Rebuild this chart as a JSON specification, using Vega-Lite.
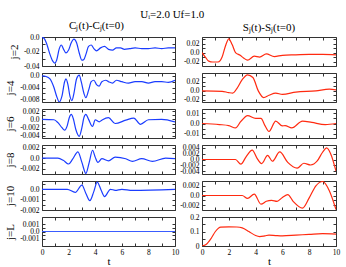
{
  "$schema": "https://vega.github.io/schema/vega-lite/v6.json",
  "padding": {"left": 4, "top": 8, "right": 6, "bottom": 0},
  "background": "white",
  "title": {"text": "Uᵢ=2.0   Uf=1.0", "font": "Liberation Serif", "fontSize": 11, "fontWeight": "normal", "anchor": "middle", "offset": 0},
  "config": {
    "font": "Liberation Serif",
    "view": {"stroke": "#333", "strokeWidth": 1},
    "axis": {"grid": false, "domain": false, "tickSize": -3, "tickColor": "#333", "labelFont": "Liberation Serif", "labelFontSize": 7.5, "labelColor": "#000", "labelPadding": 6, "titleFont": "Liberation Serif", "titleFontWeight": "normal", "titleFontSize": 11, "titleColor": "#000", "labelOverlap": false, "labelFlush": false}
  },
  "datasets": {
    "c2": [{"t":0,"v":0},{"t":0.2,"v":-0.003},{"t":0.4,"v":-0.012},{"t":0.6,"v":-0.024},{"t":0.8,"v":-0.033},{"t":0.95,"v":-0.036},{"t":1.1,"v":-0.032},{"t":1.3,"v":-0.016},{"t":1.45,"v":-0.011},{"t":1.6,"v":-0.016},{"t":1.8,"v":-0.022},{"t":2.0,"v":-0.018},{"t":2.2,"v":-0.008},{"t":2.4,"v":-0.003},{"t":2.6,"v":-0.008},{"t":2.8,"v":-0.022},{"t":3.0,"v":-0.032},{"t":3.15,"v":-0.031},{"t":3.3,"v":-0.024},{"t":3.5,"v":-0.013},{"t":3.7,"v":-0.011},{"t":3.9,"v":-0.016},{"t":4.1,"v":-0.019},{"t":4.4,"v":-0.015},{"t":4.7,"v":-0.013},{"t":5.0,"v":-0.017},{"t":5.3,"v":-0.018},{"t":5.6,"v":-0.015},{"t":5.9,"v":-0.015},{"t":6.2,"v":-0.017},{"t":6.6,"v":-0.016},{"t":7,"v":-0.015},{"t":7.5,"v":-0.016},{"t":8,"v":-0.016},{"t":8.5,"v":-0.015},{"t":9,"v":-0.016},{"t":9.5,"v":-0.015},{"t":10,"v":-0.015}],
    "c4": [{"t":0,"v":0},{"t":0.3,"v":-0.0002},{"t":0.6,"v":-0.001},{"t":0.9,"v":-0.004},{"t":1.1,"v":-0.007},{"t":1.3,"v":-0.009},{"t":1.5,"v":-0.007},{"t":1.7,"v":-0.002},{"t":1.8,"v":-0.001},{"t":1.95,"v":-0.003},{"t":2.1,"v":-0.007},{"t":2.25,"v":-0.0085},{"t":2.4,"v":-0.006},{"t":2.6,"v":-0.001},{"t":2.8,"v":0.0003},{"t":2.95,"v":-0.002},{"t":3.15,"v":-0.006},{"t":3.3,"v":-0.0075},{"t":3.5,"v":-0.005},{"t":3.7,"v":-0.002},{"t":3.9,"v":-0.0015},{"t":4.1,"v":-0.003},{"t":4.3,"v":-0.0035},{"t":4.5,"v":-0.002},{"t":4.8,"v":-0.0015},{"t":5.0,"v":-0.002},{"t":5.3,"v":-0.0025},{"t":5.6,"v":-0.0015},{"t":6,"v":-0.002},{"t":6.5,"v":-0.0025},{"t":7,"v":-0.002},{"t":7.5,"v":-0.002},{"t":8,"v":-0.0025},{"t":8.5,"v":-0.002},{"t":9,"v":-0.002},{"t":9.5,"v":-0.0022},{"t":10,"v":-0.0015}],
    "c6": [{"t":0,"v":0},{"t":0.9,"v":-0.0001},{"t":1.2,"v":-0.0008},{"t":1.5,"v":-0.002},{"t":1.7,"v":-0.0026},{"t":1.9,"v":-0.0015},{"t":2.05,"v":0.0004},{"t":2.2,"v":0.0012},{"t":2.35,"v":0.0002},{"t":2.55,"v":-0.0025},{"t":2.8,"v":-0.0041},{"t":3.0,"v":-0.002},{"t":3.15,"v":0.0004},{"t":3.3,"v":0.0012},{"t":3.5,"v":0.0},{"t":3.8,"v":-0.0017},{"t":4.0,"v":-0.0001},{"t":4.3,"v":-0.0006},{"t":4.5,"v":-0.0002},{"t":5.0,"v":0.0004},{"t":5.5,"v":-0.001},{"t":6.3,"v":-0.0002},{"t":6.9,"v":0.0003},{"t":7.4,"v":-0.0012},{"t":8,"v":-0.0001},{"t":9,"v":0.0},{"t":10,"v":-0.0006}],
    "c8": [{"t":0,"v":0},{"t":1.2,"v":0},{"t":1.6,"v":-0.0004},{"t":2.0,"v":-0.0011},{"t":2.3,"v":-0.0002},{"t":2.7,"v":0.0012},{"t":3.0,"v":-0.0008},{"t":3.3,"v":-0.0029},{"t":3.55,"v":-0.0008},{"t":3.8,"v":0.0015},{"t":4.0,"v":0.0002},{"t":4.2,"v":-0.0008},{"t":4.5,"v":-0.0001},{"t":5,"v":-0.0005},{"t":5.5,"v":0.0002},{"t":6.3,"v":-0.0001},{"t":6.8,"v":-0.0006},{"t":7.5,"v":-0.0001},{"t":8.3,"v":-0.0006},{"t":9.3,"v":0},{"t":10,"v":-0.0001}],
    "c10": [{"t":0,"v":0},{"t":1.9,"v":0},{"t":2.5,"v":-0.0003},{"t":3.0,"v":0.0004},{"t":3.3,"v":-0.0004},{"t":3.6,"v":-0.0011},{"t":3.9,"v":-0.0002},{"t":4.15,"v":0.0007},{"t":4.45,"v":-0.0001},{"t":4.7,"v":-0.0007},{"t":5.15,"v":0},{"t":5.5,"v":-0.0001},{"t":6,"v":0},{"t":6.8,"v":-0.0001},{"t":10,"v":0}],
    "cL": [{"t":0,"v":0},{"t":10,"v":0}],
    "s2": [{"t":0,"v":0},{"t":0.25,"v":-0.01},{"t":0.5,"v":-0.019},{"t":0.8,"v":-0.021},{"t":1.2,"v":-0.021},{"t":1.5,"v":-0.01},{"t":1.75,"v":0.015},{"t":2.0,"v":0.031},{"t":2.25,"v":0.018},{"t":2.5,"v":0.0},{"t":2.85,"v":-0.006},{"t":3.1,"v":-0.012},{"t":3.4,"v":-0.017},{"t":3.9,"v":-0.008},{"t":4.3,"v":-0.01},{"t":4.8,"v":-0.003},{"t":5.4,"v":-0.009},{"t":6,"v":-0.006},{"t":7,"v":-0.005},{"t":8,"v":-0.004},{"t":9,"v":-0.004},{"t":10,"v":-0.005}],
    "s4": [{"t":0,"v":0},{"t":1.5,"v":-0.001},{"t":2.0,"v":-0.004},{"t":2.3,"v":-0.005},{"t":2.6,"v":0.005},{"t":3.0,"v":0.025},{"t":3.4,"v":0.036},{"t":3.8,"v":0.03},{"t":4.2,"v":0.0},{"t":4.6,"v":-0.015},{"t":5.0,"v":-0.01},{"t":5.5,"v":-0.005},{"t":6,"v":-0.008},{"t":7,"v":-0.003},{"t":8.5,"v":0},{"t":9.5,"v":0.004},{"t":10,"v":0.002}],
    "s6": [{"t":0,"v":0},{"t":1.3,"v":-0.001},{"t":2.0,"v":-0.002},{"t":2.5,"v":-0.0043},{"t":2.9,"v":0.002},{"t":3.4,"v":0.0077},{"t":4.0,"v":0.005},{"t":4.4,"v":0.005},{"t":4.7,"v":-0.002},{"t":5.0,"v":-0.0077},{"t":5.5,"v":0.0023},{"t":6.0,"v":-0.0023},{"t":6.2,"v":-0.002},{"t":6.7,"v":-0.0043},{"t":7.5,"v":0.0023},{"t":8.2,"v":0.001},{"t":9.2,"v":-0.001},{"t":10,"v":0}],
    "s8": [{"t":0,"v":0},{"t":2.5,"v":0},{"t":2.9,"v":-0.0016},{"t":3.3,"v":0.001},{"t":3.75,"v":0.0032},{"t":4.1,"v":0.0005},{"t":4.45,"v":-0.0014},{"t":4.9,"v":0.0014},{"t":5.25,"v":-0.0006},{"t":5.8,"v":0.0026},{"t":6.4,"v":-0.001},{"t":7.1,"v":-0.003},{"t":7.6,"v":-0.0013},{"t":8.1,"v":-0.0019},{"t":8.6,"v":-0.0005},{"t":9.0,"v":0.0025},{"t":9.3,"v":0.004},{"t":9.6,"v":0.002},{"t":10,"v":-0.004}],
    "s10": [{"t":0,"v":0},{"t":3.0,"v":0},{"t":3.4,"v":-0.0006},{"t":3.9,"v":0.0003},{"t":4.4,"v":-0.0018},{"t":4.8,"v":-0.0012},{"t":5.2,"v":-0.001},{"t":5.6,"v":-0.0012},{"t":6.0,"v":-0.0004},{"t":6.4,"v":0.0002},{"t":6.8,"v":-0.0012},{"t":7.5,"v":-0.0026},{"t":8.0,"v":-0.0005},{"t":8.5,"v":0.002},{"t":9.0,"v":0.0029},{"t":9.5,"v":0.001},{"t":10,"v":-0.0029}],
    "sL": [{"t":0,"v":0},{"t":0.3,"v":0.01},{"t":0.7,"v":0.055},{"t":1.0,"v":0.1},{"t":1.4,"v":0.13},{"t":2,"v":0.132},{"t":2.6,"v":0.131},{"t":3.0,"v":0.125},{"t":3.5,"v":0.1},{"t":4.0,"v":0.072},{"t":4.3,"v":0.065},{"t":4.7,"v":0.07},{"t":5.0,"v":0.075},{"t":5.5,"v":0.072},{"t":6,"v":0.07},{"t":7,"v":0.075},{"t":8,"v":0.08},{"t":9,"v":0.085},{"t":10,"v":0.082}]
  },
  "concat": [
    {"title": {"text": "Cⱼ(t)-Cⱼ(t=0)", "fontSize": 11, "fontWeight": "normal", "offset": 2, "dx": -12},
     "width": 133, "height": 29, "data": {"name": "c2"},
     "layer": [
      {"mark": {"type": "line", "color": "#1a3cff", "strokeWidth": 1.2, "clip": true, "interpolate": "monotone"},
       "encoding": {"x": {"field": "t", "type": "quantitative", "scale": {"domain": [0, 10]}, "axis": {"values": [0,1,2,3,4,5,6,7,8,9,10], "labels": false, "title": null}},
        "y": {"field": "v", "type": "quantitative", "scale": {"domain": [-0.04, 0]}, "axis": {"values": [-0.04,-0.03,-0.02,-0.01,0], "title": "j=2", "labelExpr": "datum.value == 0 ? '0.0' : (datum.value == -0.02 ? '-0.02' : (datum.value == -0.04 ? '-0.04' : ''))"}}}},
      {"mark": {"type": "line", "opacity": 0},
       "encoding": {"x": {"field": "t", "type": "quantitative", "axis": {"orient": "top", "values": [0,1,2,3,4,5,6,7,8,9,10], "labels": false, "title": null}},
        "y": {"field": "v", "type": "quantitative", "axis": {"orient": "right", "values": [-0.04,-0.03,-0.02,-0.01,0], "labels": false, "title": null}}}}
     ],
     "resolve": {"axis": {"x": "independent", "y": "independent"}}},
    {"title": {"text": "Sⱼ(t)-Sⱼ(t=0)", "fontSize": 11, "fontWeight": "normal", "offset": 2},
     "width": 134, "height": 29, "data": {"name": "s2"},
     "layer": [
      {"mark": {"type": "line", "color": "#ff2a10", "strokeWidth": 1.2, "clip": true, "interpolate": "monotone"},
       "encoding": {"x": {"field": "t", "type": "quantitative", "scale": {"domain": [0, 10]}, "axis": {"values": [0,1,2,3,4,5,6,7,8,9,10], "labels": false, "title": null}},
        "y": {"field": "v", "type": "quantitative", "scale": {"domain": [-0.028, 0.032]}, "axis": {"values": [-0.02,-0.01,0,0.01,0.02,0.03], "title": null, "labelExpr": "datum.value == 0 ? '0.0' : (datum.value == 0.02 ? '0.02' : (datum.value == -0.02 ? '-0.02' : ''))"}}}},
      {"mark": {"type": "line", "opacity": 0},
       "encoding": {"x": {"field": "t", "type": "quantitative", "axis": {"orient": "top", "values": [0,1,2,3,4,5,6,7,8,9,10], "labels": false, "title": null}},
        "y": {"field": "v", "type": "quantitative", "axis": {"orient": "right", "values": [-0.02,-0.01,0,0.01,0.02,0.03], "labels": false, "title": null}}}}
     ],
     "resolve": {"axis": {"x": "independent", "y": "independent"}}},

    {"width": 133, "height": 29, "data": {"name": "c4"},
     "layer": [
      {"mark": {"type": "line", "color": "#1a3cff", "strokeWidth": 1.2, "clip": true, "interpolate": "monotone"},
       "encoding": {"x": {"field": "t", "type": "quantitative", "scale": {"domain": [0, 10]}, "axis": {"values": [0,1,2,3,4,5,6,7,8,9,10], "labels": false, "title": null}},
        "y": {"field": "v", "type": "quantitative", "scale": {"domain": [-0.009, 0.001]}, "axis": {"values": [-0.008,-0.006,-0.004,-0.002,0], "title": "j=4", "labelExpr": "datum.value == 0 ? '0.0' : (datum.value == -0.004 ? '-0.004' : (datum.value == -0.008 ? '-0.008' : ''))"}}}},
      {"mark": {"type": "line", "opacity": 0},
       "encoding": {"x": {"field": "t", "type": "quantitative", "axis": {"orient": "top", "values": [0,1,2,3,4,5,6,7,8,9,10], "labels": false, "title": null}},
        "y": {"field": "v", "type": "quantitative", "axis": {"orient": "right", "values": [-0.008,-0.006,-0.004,-0.002,0], "labels": false, "title": null}}}}
     ],
     "resolve": {"axis": {"x": "independent", "y": "independent"}}},
    {"width": 134, "height": 29, "data": {"name": "s4"},
     "layer": [
      {"mark": {"type": "line", "color": "#ff2a10", "strokeWidth": 1.2, "clip": true, "interpolate": "monotone"},
       "encoding": {"x": {"field": "t", "type": "quantitative", "scale": {"domain": [0, 10]}, "axis": {"values": [0,1,2,3,4,5,6,7,8,9,10], "labels": false, "title": null}},
        "y": {"field": "v", "type": "quantitative", "scale": {"domain": [-0.022, 0.036]}, "axis": {"values": [-0.02,-0.01,0,0.01,0.02,0.03], "title": null, "labelExpr": "datum.value == 0 ? '0.0' : (datum.value == 0.02 ? '0.02' : (datum.value == -0.02 ? '-0.02' : ''))"}}}},
      {"mark": {"type": "line", "opacity": 0},
       "encoding": {"x": {"field": "t", "type": "quantitative", "axis": {"orient": "top", "values": [0,1,2,3,4,5,6,7,8,9,10], "labels": false, "title": null}},
        "y": {"field": "v", "type": "quantitative", "axis": {"orient": "right", "values": [-0.02,-0.01,0,0.01,0.02,0.03], "labels": false, "title": null}}}}
     ],
     "resolve": {"axis": {"x": "independent", "y": "independent"}}},

    {"width": 133, "height": 29, "data": {"name": "c6"},
     "layer": [
      {"mark": {"type": "line", "color": "#1a3cff", "strokeWidth": 1.2, "clip": true, "interpolate": "monotone"},
       "encoding": {"x": {"field": "t", "type": "quantitative", "scale": {"domain": [0, 10]}, "axis": {"values": [0,1,2,3,4,5,6,7,8,9,10], "labels": false, "title": null}},
        "y": {"field": "v", "type": "quantitative", "scale": {"domain": [-0.0045, 0.0025]}, "axis": {"values": [-0.004,-0.003,-0.002,-0.001,0,0.001,0.002], "title": "j=6", "labelExpr": "datum.value == 0 ? '0.0' : (datum.value == 0.002 ? '0.002' : (datum.value == -0.002 ? '-0.002' : (datum.value == -0.004 ? '-0.004' : '')))"}}}},
      {"mark": {"type": "line", "opacity": 0},
       "encoding": {"x": {"field": "t", "type": "quantitative", "axis": {"orient": "top", "values": [0,1,2,3,4,5,6,7,8,9,10], "labels": false, "title": null}},
        "y": {"field": "v", "type": "quantitative", "axis": {"orient": "right", "values": [-0.004,-0.003,-0.002,-0.001,0,0.001,0.002], "labels": false, "title": null}}}}
     ],
     "resolve": {"axis": {"x": "independent", "y": "independent"}}},
    {"width": 134, "height": 29, "data": {"name": "s6"},
     "layer": [
      {"mark": {"type": "line", "color": "#ff2a10", "strokeWidth": 1.2, "clip": true, "interpolate": "monotone"},
       "encoding": {"x": {"field": "t", "type": "quantitative", "scale": {"domain": [0, 10]}, "axis": {"values": [0,1,2,3,4,5,6,7,8,9,10], "labels": false, "title": null}},
        "y": {"field": "v", "type": "quantitative", "scale": {"domain": [-0.014, 0.014]}, "axis": {"values": [-0.01,-0.005,0,0.005,0.01], "title": null, "labelExpr": "datum.value == 0 ? '0.0' : (datum.value == 0.01 ? '0.01' : (datum.value == -0.01 ? '-0.01' : ''))"}}}},
      {"mark": {"type": "line", "opacity": 0},
       "encoding": {"x": {"field": "t", "type": "quantitative", "axis": {"orient": "top", "values": [0,1,2,3,4,5,6,7,8,9,10], "labels": false, "title": null}},
        "y": {"field": "v", "type": "quantitative", "axis": {"orient": "right", "values": [-0.01,-0.005,0,0.005,0.01], "labels": false, "title": null}}}}
     ],
     "resolve": {"axis": {"x": "independent", "y": "independent"}}},

    {"width": 133, "height": 29, "data": {"name": "c8"},
     "layer": [
      {"mark": {"type": "line", "color": "#1a3cff", "strokeWidth": 1.2, "clip": true, "interpolate": "monotone"},
       "encoding": {"x": {"field": "t", "type": "quantitative", "scale": {"domain": [0, 10]}, "axis": {"values": [0,1,2,3,4,5,6,7,8,9,10], "labels": false, "title": null}},
        "y": {"field": "v", "type": "quantitative", "scale": {"domain": [-0.003, 0.0025]}, "axis": {"values": [-0.003,-0.002,-0.001,0,0.001,0.002], "title": "j=8", "labelExpr": "datum.value == 0 ? '0.0' : (datum.value == 0.002 ? '0.002' : (datum.value == -0.002 ? '-0.002' : ''))"}}}},
      {"mark": {"type": "line", "opacity": 0},
       "encoding": {"x": {"field": "t", "type": "quantitative", "axis": {"orient": "top", "values": [0,1,2,3,4,5,6,7,8,9,10], "labels": false, "title": null}},
        "y": {"field": "v", "type": "quantitative", "axis": {"orient": "right", "values": [-0.003,-0.002,-0.001,0,0.001,0.002], "labels": false, "title": null}}}}
     ],
     "resolve": {"axis": {"x": "independent", "y": "independent"}}},
    {"width": 134, "height": 29, "data": {"name": "s8"},
     "layer": [
      {"mark": {"type": "line", "color": "#ff2a10", "strokeWidth": 1.2, "clip": true, "interpolate": "monotone"},
       "encoding": {"x": {"field": "t", "type": "quantitative", "scale": {"domain": [0, 10]}, "axis": {"values": [0,1,2,3,4,5,6,7,8,9,10], "labels": false, "title": null}},
        "y": {"field": "v", "type": "quantitative", "scale": {"domain": [-0.0042, 0.0042]}, "axis": {"values": [-0.004,-0.002,0,0.002,0.004], "title": null, "labelExpr": "datum.value == 0 ? '0.0' : (datum.value < 0 ? '-' : '') + format(abs(datum.value), '.3f')"}}}},
      {"mark": {"type": "line", "opacity": 0},
       "encoding": {"x": {"field": "t", "type": "quantitative", "axis": {"orient": "top", "values": [0,1,2,3,4,5,6,7,8,9,10], "labels": false, "title": null}},
        "y": {"field": "v", "type": "quantitative", "axis": {"orient": "right", "values": [-0.004,-0.002,0,0.002,0.004], "labels": false, "title": null}}}}
     ],
     "resolve": {"axis": {"x": "independent", "y": "independent"}}},

    {"width": 133, "height": 29, "data": {"name": "c10"},
     "layer": [
      {"mark": {"type": "line", "color": "#1a3cff", "strokeWidth": 1.2, "clip": true, "interpolate": "monotone"},
       "encoding": {"x": {"field": "t", "type": "quantitative", "scale": {"domain": [0, 10]}, "axis": {"values": [0,1,2,3,4,5,6,7,8,9,10], "labels": false, "title": null}},
        "y": {"field": "v", "type": "quantitative", "scale": {"domain": [-0.002, 0.0007]}, "axis": {"values": [-0.002,-0.0015,-0.001,-0.0005,0,0.0005], "title": "j=10", "labelExpr": "datum.value == 0 ? '0.0' : (datum.value == -0.001 ? '-0.001' : (datum.value == -0.002 ? '-0.002' : ''))"}}}},
      {"mark": {"type": "line", "opacity": 0},
       "encoding": {"x": {"field": "t", "type": "quantitative", "axis": {"orient": "top", "values": [0,1,2,3,4,5,6,7,8,9,10], "labels": false, "title": null}},
        "y": {"field": "v", "type": "quantitative", "axis": {"orient": "right", "values": [-0.002,-0.0015,-0.001,-0.0005,0,0.0005], "labels": false, "title": null}}}}
     ],
     "resolve": {"axis": {"x": "independent", "y": "independent"}}},
    {"width": 134, "height": 29, "data": {"name": "s10"},
     "layer": [
      {"mark": {"type": "line", "color": "#ff2a10", "strokeWidth": 1.2, "clip": true, "interpolate": "monotone"},
       "encoding": {"x": {"field": "t", "type": "quantitative", "scale": {"domain": [0, 10]}, "axis": {"values": [0,1,2,3,4,5,6,7,8,9,10], "labels": false, "title": null}},
        "y": {"field": "v", "type": "quantitative", "scale": {"domain": [-0.003, 0.003]}, "axis": {"values": [-0.002,-0.001,0,0.001,0.002], "title": null, "labelExpr": "datum.value == 0 ? '0.0' : (datum.value == 0.002 ? '0.002' : (datum.value == -0.002 ? '-0.002' : ''))"}}}},
      {"mark": {"type": "line", "opacity": 0},
       "encoding": {"x": {"field": "t", "type": "quantitative", "axis": {"orient": "top", "values": [0,1,2,3,4,5,6,7,8,9,10], "labels": false, "title": null}},
        "y": {"field": "v", "type": "quantitative", "axis": {"orient": "right", "values": [-0.002,-0.001,0,0.001,0.002], "labels": false, "title": null}}}}
     ],
     "resolve": {"axis": {"x": "independent", "y": "independent"}}},

    {"width": 133, "height": 29, "data": {"name": "cL"},
     "layer": [
      {"mark": {"type": "line", "color": "#3a5cff", "strokeWidth": 1.2, "clip": true},
       "encoding": {"x": {"field": "t", "type": "quantitative", "scale": {"domain": [0, 10]}, "axis": {"values": [0,1,2,3,4,5,6,7,8,9,10], "title": "t", "titlePadding": 0, "labelPadding": 5, "labelExpr": "datum.value % 2 == 0 ? datum.label : ''"}},
        "y": {"field": "v", "type": "quantitative", "scale": {"domain": [-0.0015, 0.0015]}, "axis": {"values": [-0.001,-0.0005,0,0.0005,0.001], "title": "j=L", "labelExpr": "datum.value == 0 ? '0.0' : (datum.value == 0.001 ? '0.001' : (datum.value == -0.001 ? '-0.001' : ''))"}}}},
      {"mark": {"type": "line", "opacity": 0},
       "encoding": {"x": {"field": "t", "type": "quantitative", "axis": {"orient": "top", "values": [0,1,2,3,4,5,6,7,8,9,10], "labels": false, "title": null}},
        "y": {"field": "v", "type": "quantitative", "axis": {"orient": "right", "values": [-0.001,-0.0005,0,0.0005,0.001], "labels": false, "title": null}}}}
     ],
     "resolve": {"axis": {"x": "independent", "y": "independent"}}},
    {"width": 134, "height": 29, "data": {"name": "sL"},
     "layer": [
      {"mark": {"type": "line", "color": "#ff2a10", "strokeWidth": 1.2, "clip": true, "interpolate": "monotone"},
       "encoding": {"x": {"field": "t", "type": "quantitative", "scale": {"domain": [0, 10]}, "axis": {"values": [0,1,2,3,4,5,6,7,8,9,10], "title": "t", "titlePadding": 0, "labelPadding": 5, "labelExpr": "datum.value % 2 == 0 ? datum.label : ''"}},
        "y": {"field": "v", "type": "quantitative", "scale": {"domain": [0, 0.2]}, "axis": {"values": [0,0.05,0.1,0.15,0.2], "title": null, "labelExpr": "datum.value == 0 ? '0' : (datum.value == 0.1 ? '0.1' : (datum.value == 0.2 ? '0.2' : ''))"}}}},
      {"mark": {"type": "line", "opacity": 0},
       "encoding": {"x": {"field": "t", "type": "quantitative", "axis": {"orient": "top", "values": [0,1,2,3,4,5,6,7,8,9,10], "labels": false, "title": null}},
        "y": {"field": "v", "type": "quantitative", "axis": {"orient": "right", "values": [0,0.05,0.1,0.15,0.2], "labels": false, "title": null}}}}
     ],
     "resolve": {"axis": {"x": "independent", "y": "independent"}}}
  ],
  "columns": 2,
  "align": "each",
  "bounds": "flush",
  "spacing": {"row": 7, "column": 27}
}
